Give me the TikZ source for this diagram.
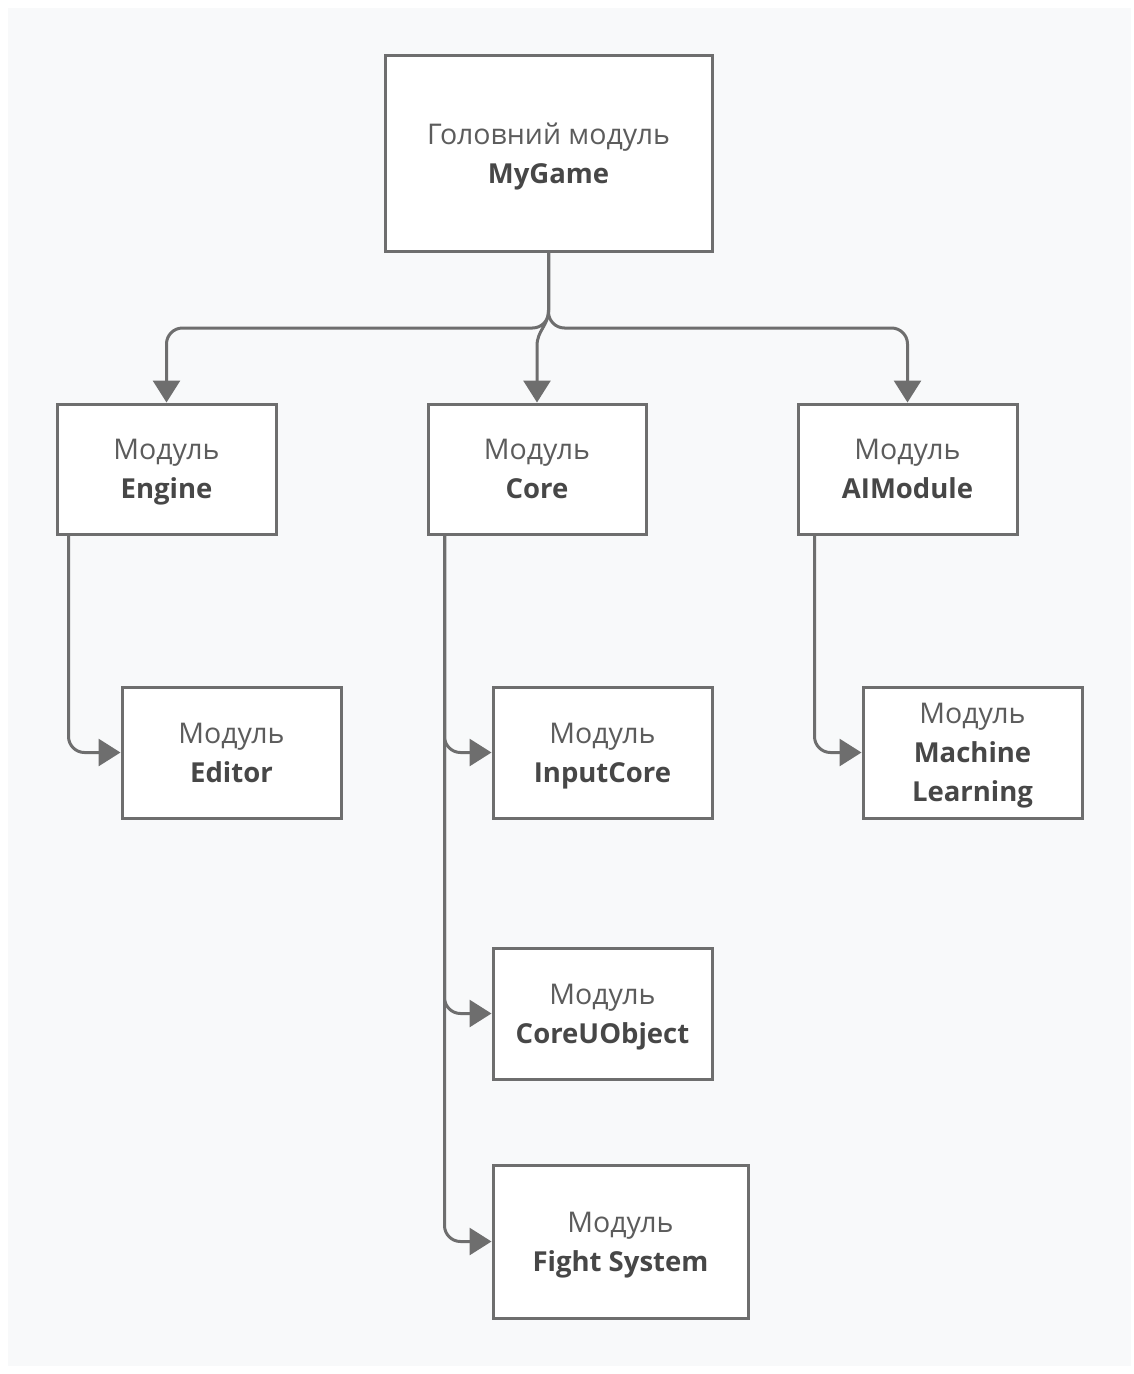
\documentclass[tikz,border=0pt]{standalone}
\usepackage{fontspec}
\setmainfont{Open Sans}
\usetikzlibrary{arrows.meta}
\definecolor{pagebg}{HTML}{F8F9FA}
\definecolor{edge}{HTML}{6E6E6E}
\definecolor{lbl}{HTML}{5C5C5C}
\definecolor{lblb}{HTML}{474747}
\newcommand{\modname}[1]{{\color{lblb}\fontsize{27.5}{39}\selectfont\bfseries #1}}
\begin{document}
\begin{tikzpicture}[x=1pt,y=-1pt,
  box/.style={draw=edge, line width=3pt, fill=white, align=center,
    inner sep=0pt, text depth=0pt, font=\fontsize{28.5}{39}\selectfont, text=lbl},
  conn/.style={draw=edge, line width=3pt,
    -{Triangle[width=27pt,length=22pt]}, rounded corners=16pt}]
  \useasboundingbox (0,0) rectangle (1134,1374);
  \fill[white] (0,0) rectangle (1134,1374);
  \fill[pagebg] (8,8) rectangle (1131,1366);

  % modules
  \node[box, minimum width=327pt, minimum height=196pt] (mygame) at (548.5,153)
    {Головний модуль\\\modname{MyGame}};
  \node[box, minimum width=219pt, minimum height=130pt] (engine) at (166.5,469)
    {Модуль\\\modname{Engine}};
  \node[box, minimum width=218pt, minimum height=130pt] (core) at (537,469)
    {Модуль\\\modname{Core}};
  \node[box, minimum width=219pt, minimum height=130pt] (aimod) at (907.5,469)
    {Модуль\\\modname{AIModule}};
  \node[box, minimum width=219pt, minimum height=131pt] (editor) at (231.5,752.5)
    {Модуль\\\modname{Editor}};
  \node[box, minimum width=219pt, minimum height=131pt] (input) at (602.5,752.5)
    {Модуль\\\modname{InputCore}};
  \node[box, minimum width=219pt, minimum height=131pt] (ml) at (972.5,752.5)
    {Модуль\\\modname{Machine}\\\modname{Learning}};
  \node[box, minimum width=219pt, minimum height=131pt] (uobj) at (602.5,1013.5)
    {Модуль\\\modname{CoreUObject}};
  \node[box, minimum width=255pt, minimum height=153pt] (fight) at (620.5,1241.5)
    {Модуль\\\modname{Fight System}};

  % junction below the main module
  \coordinate (split) at (548.5,328);

  % top-level branches
  \draw[conn] (mygame.south) -- (split) -| (engine.north);
  \draw[conn] (mygame.south) -- (split) -| (aimod.north);
  \draw[conn, rounded corners=0pt] (mygame.south) -- (548.5,310)
    .. controls (548.5,326) and (537,330) .. (537,346) -- (core.north);

  % second-level branches
  \draw[conn] ([xshift=13pt]engine.south west) |- (editor.west);
  \draw[conn] ([xshift=18pt]core.south west) |- (input.west);
  \draw[conn] ([xshift=18pt]core.south west) |- (uobj.west);
  \draw[conn] ([xshift=18pt]core.south west) |- (fight.west);
  \draw[conn] ([xshift=18pt]aimod.south west) |- (ml.west);
\end{tikzpicture}
\end{document}
